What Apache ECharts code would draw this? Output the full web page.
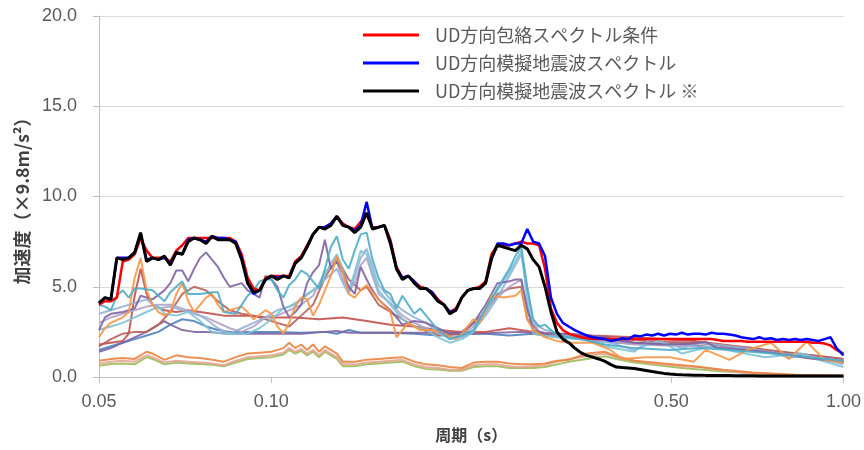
<!DOCTYPE html>
<html><head><meta charset="utf-8">
<script src="https://cdn.jsdelivr.net/npm/echarts@6/dist/echarts.min.js"></script>
<style>html,body{margin:0;padding:0;background:#fff}#c{width:864px;height:450px}</style>
</head><body><div id="c"></div>
<script>
const PERIODS = [0.05,0.05121,0.05245,0.05372,0.05502,0.05636,0.05772,0.05912,0.06055,0.06202,
0.06352,0.06506,0.06663,0.06824,0.0699,0.07159,0.07332,0.0751,0.07692,0.07878,
0.08069,0.08264,0.08464,0.08669,0.08879,0.09094,0.09314,0.0954,0.09771,0.1001,
0.1025,0.105,0.1075,0.1101,0.1128,0.1155,0.1183,0.1212,0.1241,0.1271,
0.1302,0.1334,0.1366,0.1399,0.1433,0.1468,0.1503,0.154,0.1577,0.1615,
0.1655,0.1695,0.1736,0.1778,0.1821,0.1865,0.191,0.1956,0.2004,0.2052,
0.2102,0.2153,0.2205,0.2258,0.2313,0.2369,0.2426,0.2485,0.2545,0.2607,
0.267,0.2735,0.2801,0.2869,0.2938,0.3009,0.3082,0.3157,0.3233,0.3311,
0.3392,0.3474,0.3558,0.3644,0.3732,0.3823,0.3915,0.401,0.4107,0.4207,
0.4309,0.4413,0.452,0.463,0.4742,0.4857,0.4974,0.5095,0.5218,0.5345,
0.5474,0.5607,0.5742,0.5882,0.6024,0.617,0.6319,0.6472,0.6629,0.679,
0.6954,0.7123,0.7295,0.7472,0.7653,0.7838,0.8028,0.8223,0.8422,0.8626,
0.8835,0.9049,0.9268,0.9493,0.9723,1.0];

const BLACK = [4.1,4.4,4.3,6.6,6.5,6.6,6.9,8.0,6.4,6.6,
6.5,6.7,6.2,6.9,6.8,7.5,7.7,7.6,7.4,7.8,
7.6,7.6,7.6,7.4,6.5,5.2,4.7,4.8,5.4,5.6,
5.4,5.6,5.5,6.3,6.6,7.2,7.9,8.3,8.2,8.4,
8.9,8.4,8.3,8.0,8.3,9.1,8.2,8.3,8.4,7.4,
6.0,5.4,5.6,5.2,4.9,4.9,4.6,4.2,4.0,3.5,
3.7,4.4,4.8,4.9,4.9,5.2,6.6,7.3,7.2,7.1,
7.0,7.3,7.1,6.5,6.1,5.0,3.6,2.5,2.1,1.9,
1.6,1.35,1.2,1.1,1.0,0.88,0.7,0.55,0.52,0.5,
0.47,0.42,0.36,0.3,0.25,0.2,0.17,0.14,0.12,0.11,
0.1,0.1,0.09,0.09,0.08,0.08,0.08,0.07,0.07,0.07,
0.07,0.06,0.06,0.06,0.06,0.06,0.06,0.05,0.05,0.05,
0.05,0.05,0.05,0.05,0.05,0.05];

const BLUE = [4.1,4.4,4.3,6.6,6.6,6.6,6.9,7.9,6.5,6.6,
6.5,6.6,6.3,6.9,6.8,7.6,7.7,7.6,7.5,7.8,
7.7,7.7,7.6,7.5,6.6,5.2,4.6,4.8,5.4,5.6,
5.5,5.6,5.5,6.3,6.6,7.2,7.9,8.3,8.3,8.5,
8.9,8.4,8.3,8.1,8.4,9.7,8.2,8.3,8.4,7.5,
6.0,5.5,5.6,5.3,4.9,4.9,4.7,4.2,4.0,3.6,
3.7,4.4,4.8,4.9,4.9,5.2,6.5,7.4,7.4,7.3,
7.4,7.4,8.2,7.5,7.4,6.7,4.4,3.5,3.0,2.8,
2.6,2.45,2.3,2.2,2.15,2.1,2.0,2.05,2.15,2.1,
2.3,2.25,2.35,2.3,2.4,2.3,2.4,2.35,2.45,2.35,
2.4,2.4,2.35,2.45,2.4,2.4,2.35,2.3,2.2,2.15,
2.1,2.2,2.1,2.15,2.05,2.1,2.05,2.1,2.05,2.1,
2.05,2.0,2.1,2.2,1.6,1.2];

const RED = [4.0,4.2,4.2,4.4,6.4,6.5,6.8,7.7,7.0,6.6,
6.6,6.6,6.4,7.0,7.3,7.7,7.7,7.7,7.7,7.7,
7.7,7.7,7.7,7.5,6.8,5.5,4.9,4.8,5.5,5.6,
5.6,5.6,5.6,6.4,6.7,7.3,7.9,8.3,8.3,8.5,
8.9,8.5,8.3,8.2,8.6,9.0,8.3,8.3,8.4,7.6,
6.1,5.5,5.6,5.3,5.0,4.9,4.7,4.3,4.0,3.6,
3.8,4.4,4.8,4.9,5.0,5.3,6.8,7.3,7.3,7.3,
7.4,7.5,7.4,7.4,7.3,6.0,3.8,3.0,2.6,2.4,
2.3,2.2,2.15,2.1,2.1,2.1,2.1,2.1,2.1,2.1,
2.1,2.1,2.1,2.1,2.1,2.1,2.1,2.1,2.1,2.1,
2.1,2.1,2.1,2.1,2.05,2.0,2.0,2.0,2.0,1.95,
1.95,1.95,1.95,1.95,1.95,1.95,1.95,1.95,1.95,1.95,
1.9,1.9,1.85,1.75,1.5,1.3];

// thin comparison spectra: [period, value]
const ORANGE_HI = [[0.05,2.2],[0.05121,2.7],[0.05245,3.0],[0.05502,3.3],[0.05636,3.6],[0.05772,5.5],[0.05912,6.6],[0.06055,4.8],[0.06202,4.0],[0.06352,3.6],[0.06506,3.4],[0.06663,3.6],[0.06824,4.6],[0.0699,5.2],[0.07159,4.2],[0.07332,3.6],[0.0751,4.0],[0.07692,4.4],[0.07878,4.6],[0.08069,4.0],[0.08264,3.6],[0.08669,3.8],[0.08879,3.9],[0.09094,3.6],[0.09314,3.2],[0.09771,3.7],[0.1001,3.5],[0.1025,2.8],[0.105,2.4],[0.1075,3.0],[0.1101,3.9],[0.1128,4.4],[0.1155,4.3],[0.1183,3.4],[0.1212,4.0],[0.1241,4.8],[0.1271,5.6],[0.1302,6.7],[0.1334,5.8],[0.1366,4.6],[0.1399,4.4],[0.1433,4.8],[0.1468,5.1],[0.1503,4.7],[0.154,4.3],[0.1615,3.6],[0.1655,2.2],[0.1736,3.0],[0.1821,2.6],[0.191,2.6],[0.2004,2.4],[0.2102,2.1],[0.2153,2.4],[0.2258,3.2],[0.2313,3.0],[0.2369,3.7],[0.2426,4.5],[0.2545,4.4],[0.267,4.5],[0.2735,4.8],[0.2801,3.2],[0.2869,2.6],[0.3009,2.2],[0.3157,2.0],[0.3311,1.9],[0.3644,1.9],[0.3915,1.5],[0.4107,1.0],[0.452,1.1],[0.4974,1.1],[0.5474,0.85],[0.5742,1.5],[0.6319,0.95],[0.679,1.5],[0.7472,1.9],[0.8028,1.0],[0.8626,1.95],[0.9268,0.95],[1.0,0.8]];
const PURPLE_HI = [[0.05,2.6],[0.05121,3.3],[0.05245,3.5],[0.05502,3.6],[0.05772,3.8],[0.05912,4.5],[0.06202,4.3],[0.06506,4.8],[0.06663,5.2],[0.06824,5.9],[0.0699,5.9],[0.07159,5.3],[0.07332,6.0],[0.0751,6.6],[0.07692,6.9],[0.07878,6.5],[0.08069,6.1],[0.08264,5.5],[0.08464,5.0],[0.08879,5.2],[0.09094,4.8],[0.09314,4.6],[0.0954,4.4],[0.09771,5.6],[0.1001,5.4],[0.1025,5.0],[0.105,3.9],[0.1075,3.3],[0.1101,3.6],[0.1128,4.0],[0.1155,5.2],[0.1183,5.8],[0.1212,6.2],[0.1241,7.6],[0.1271,6.0],[0.1302,6.4],[0.1334,5.8],[0.1366,5.0],[0.1399,4.6],[0.1433,6.1],[0.1468,5.4],[0.1503,4.8],[0.154,4.3],[0.1615,3.7],[0.1695,2.9],[0.1778,3.1],[0.1865,3.0],[0.1956,2.7],[0.2052,2.4],[0.2153,2.5],[0.2258,3.0],[0.2369,4.0],[0.2485,5.2],[0.2607,5.3],[0.267,5.4],[0.2735,5.4],[0.2801,3.8],[0.2869,2.6],[0.3009,2.4],[0.3311,2.4],[0.3823,2.2],[0.4309,1.9],[0.4857,1.8],[0.5474,1.85],[0.5742,1.95],[0.6024,1.6],[0.679,1.5],[0.7653,1.3],[0.9049,1.0],[1.0,0.85]];
const TEAL_A = [[0.05,4.0],[0.05121,3.9],[0.05245,3.7],[0.05372,4.5],[0.05502,4.8],[0.05636,4.4],[0.05772,4.9],[0.05912,4.9],[0.06202,4.8],[0.06506,4.2],[0.06663,4.7],[0.06824,5.0],[0.0699,5.3],[0.07159,4.6],[0.0751,4.6],[0.07878,4.7],[0.08069,4.7],[0.08264,3.6],[0.08669,3.5],[0.09094,4.5],[0.09314,4.8],[0.0954,5.3],[0.09771,5.4],[0.1001,5.4],[0.1025,4.8],[0.105,4.4],[0.1075,5.1],[0.1101,5.4],[0.1128,5.9],[0.1155,5.7],[0.1183,5.3],[0.1212,4.9],[0.1241,6.0],[0.1271,7.2],[0.1302,7.8],[0.1334,6.5],[0.1366,6.0],[0.1399,7.0],[0.1433,7.9],[0.1468,8.0],[0.1503,6.5],[0.154,5.5],[0.1577,4.8],[0.1615,4.6],[0.1655,3.8],[0.1695,4.5],[0.1736,4.0],[0.1778,3.5],[0.1821,3.8],[0.1865,3.4],[0.1956,2.6],[0.2052,2.1],[0.2153,2.3],[0.2258,2.6],[0.2369,3.8],[0.2485,4.9],[0.2607,6.0],[0.267,6.7],[0.2735,7.2],[0.2801,5.0],[0.2869,3.2],[0.2938,2.8],[0.3009,2.9],[0.3082,2.6],[0.3157,2.3],[0.3474,2.1],[0.3823,1.8],[0.4309,1.6],[0.4974,1.5],[0.5607,1.6],[0.6319,1.5],[0.7472,1.3],[0.8626,1.1],[1.0,0.9]];
const TEAL_B = [[0.05,2.6],[0.05245,2.8],[0.05502,3.0],[0.05772,3.3],[0.06055,3.6],[0.06352,3.9],[0.06506,3.5],[0.06824,3.4],[0.07159,3.6],[0.0751,3.1],[0.07878,2.5],[0.08264,2.4],[0.08669,2.4],[0.09094,2.4],[0.0954,2.7],[0.1001,3.2],[0.105,3.8],[0.1101,4.0],[0.1155,4.6],[0.1212,5.0],[0.1271,6.3],[0.1302,6.8],[0.1334,6.0],[0.1366,4.8],[0.1399,5.8],[0.1433,7.0],[0.1468,6.8],[0.1503,5.8],[0.154,4.8],[0.1615,4.0],[0.1695,3.2],[0.1778,2.8],[0.1865,2.6],[0.1956,2.2],[0.2052,1.9],[0.2153,2.1],[0.2258,2.5],[0.2369,3.6],[0.2485,4.8],[0.2607,5.8],[0.2735,7.0],[0.2801,4.3],[0.2869,2.4],[0.3009,2.3],[0.3157,2.2],[0.3558,2.05],[0.3823,1.7],[0.4309,1.4],[0.463,2.15],[0.4974,1.7],[0.5218,1.3],[0.5882,1.7],[0.6472,1.4],[0.7295,1.1],[0.8422,1.3],[0.9049,0.95],[1.0,0.55]];
const LIGHT_BLUE = [[0.05,3.5],[0.05245,3.7],[0.05502,3.9],[0.05772,4.1],[0.06055,4.3],[0.06352,3.8],[0.06663,3.9],[0.0699,3.7],[0.07332,3.6],[0.07692,3.2],[0.08069,2.7],[0.08464,2.4],[0.08879,2.7],[0.09314,3.0],[0.09771,3.3],[0.1025,3.7],[0.1075,3.9],[0.1128,4.3],[0.1183,4.8],[0.1241,5.4],[0.1302,6.0],[0.1334,5.2],[0.1366,4.6],[0.1399,5.6],[0.1433,6.6],[0.1468,7.1],[0.1503,6.1],[0.154,5.1],[0.1615,4.3],[0.1695,3.7],[0.1778,3.3],[0.1865,3.0],[0.1956,2.5],[0.2052,2.1],[0.2153,2.2],[0.2258,2.6],[0.2369,3.4],[0.2485,4.4],[0.2607,5.6],[0.2735,6.8],[0.2801,4.8],[0.2869,3.0],[0.3009,2.6],[0.3311,2.3],[0.3644,2.0],[0.3915,1.9],[0.4309,1.5],[0.4742,2.0],[0.5218,1.6],[0.5607,1.9],[0.617,1.75],[0.679,1.6],[0.7653,1.3],[0.8028,1.05],[0.8626,1.2],[0.9268,0.95],[1.0,0.7]];
const LIGHT_PURPLE = [[0.05,3.0],[0.05245,3.3],[0.05502,3.5],[0.05772,3.7],[0.06055,3.9],[0.06352,4.0],[0.06663,4.0],[0.0699,3.8],[0.07332,3.5],[0.07692,3.3],[0.08069,3.0],[0.08464,2.7],[0.08879,2.5],[0.09314,2.8],[0.09771,3.3],[0.1025,3.4],[0.1075,3.7],[0.1128,4.0],[0.1183,4.5],[0.1241,5.8],[0.1302,6.4],[0.1334,5.4],[0.1366,4.8],[0.1399,5.2],[0.1433,6.2],[0.1468,6.6],[0.1503,5.6],[0.154,4.6],[0.1615,4.1],[0.1695,3.4],[0.1778,3.0],[0.1865,2.7],[0.1956,2.4],[0.2052,2.2],[0.2153,2.3],[0.2258,2.8],[0.2369,3.7],[0.2485,4.4],[0.2607,5.0],[0.2735,5.4],[0.2801,3.6],[0.2938,2.5],[0.3157,2.3],[0.3558,2.1],[0.4309,1.8],[0.5474,1.7],[0.6954,1.5],[1.0,0.9]];
const BROWN_A = [[0.05,1.8],[0.05245,1.9],[0.05502,2.0],[0.05636,2.4],[0.05772,4.5],[0.05912,6.0],[0.06055,4.6],[0.06202,4.0],[0.06506,3.7],[0.06824,3.6],[0.07159,3.7],[0.0751,3.6],[0.07878,3.5],[0.08264,3.4],[0.09094,3.4],[0.1001,3.3],[0.1101,3.3],[0.1212,3.2],[0.1334,3.3],[0.1468,3.1],[0.1615,2.9],[0.1778,2.8],[0.1956,2.6],[0.2153,2.5],[0.2369,2.5],[0.2607,2.7],[0.2869,2.5],[0.3157,2.4],[0.3644,2.3],[0.4309,2.2],[0.5474,2.0],[0.6954,1.6],[0.8422,1.1],[1.0,0.8]];
const BROWN_B = [[0.05,1.7],[0.05245,2.1],[0.05502,2.4],[0.05772,2.5],[0.06055,2.5],[0.06352,2.9],[0.06663,3.6],[0.0699,4.6],[0.07332,5.0],[0.07692,4.8],[0.08069,4.2],[0.08464,3.7],[0.08879,3.5],[0.09314,3.4],[0.09771,3.2],[0.1025,3.0],[0.1075,2.8],[0.1128,3.4],[0.1183,4.0],[0.1241,5.5],[0.1302,6.6],[0.1366,5.4],[0.1433,4.8],[0.1468,5.0],[0.154,4.0],[0.1615,3.6],[0.1695,3.2],[0.1778,2.8],[0.1956,2.3],[0.2153,2.4],[0.2369,3.6],[0.2485,4.6],[0.2607,4.9],[0.2735,5.0],[0.2801,3.2],[0.2938,2.5],[0.3157,2.3],[0.3732,2.2],[0.452,2.0],[0.5474,1.9],[0.6954,1.6],[1.0,1.0]];
const BLUE_THIN = [[0.05,1.5],[0.05245,1.7],[0.05502,1.9],[0.05772,2.1],[0.06055,2.3],[0.06352,2.5],[0.06663,2.9],[0.0699,3.2],[0.07332,3.1],[0.07692,2.8],[0.08069,2.6],[0.08464,2.5],[0.09314,2.5],[0.1025,2.5],[0.1128,2.45],[0.1241,2.5],[0.1302,2.4],[0.1366,2.6],[0.1433,2.45],[0.1615,2.45],[0.1778,2.4],[0.1956,2.3],[0.2153,2.4],[0.2369,2.4],[0.2607,2.3],[0.2869,2.4],[0.3157,2.2],[0.3558,2.1],[0.401,1.9],[0.4742,1.8],[0.5474,1.75],[0.679,1.5],[0.8223,1.3],[1.0,1.0]];
const PURPLE_FLAT = [[0.05,1.4],[0.05245,1.6],[0.05502,1.9],[0.05772,2.2],[0.06055,2.5],[0.06352,2.9],[0.06506,3.1],[0.06663,2.9],[0.0699,2.6],[0.07332,2.5],[0.07692,2.5],[0.08464,2.4],[0.09314,2.4],[0.1025,2.4],[0.1128,2.4],[0.1241,2.5],[0.1302,2.55],[0.1366,2.45],[0.1503,2.45],[0.1695,2.45],[0.1865,2.45],[0.2052,2.45],[0.2258,2.4],[0.2485,2.45],[0.2735,2.5],[0.2938,2.4],[0.3233,2.3],[0.3644,2.2],[0.4309,1.9],[0.5218,1.8],[0.5742,1.9],[0.617,1.7],[0.679,1.55],[0.7653,1.35],[0.9049,1.0],[1.0,0.85]];
const ORANGE_LOW = [[0.05,0.9],[0.05245,1.0],[0.05502,1.05],[0.05772,1.0],[0.06055,1.4],[0.06202,1.3],[0.06506,0.95],[0.06824,1.2],[0.07159,1.1],[0.0751,1.05],[0.07878,0.95],[0.08264,0.85],[0.08669,1.1],[0.09094,1.3],[0.0954,1.35],[0.1001,1.4],[0.105,1.6],[0.1075,1.9],[0.1101,1.6],[0.1128,1.8],[0.1155,1.5],[0.1183,1.8],[0.1212,1.4],[0.1241,1.7],[0.1271,1.5],[0.1302,1.3],[0.1334,0.85],[0.1399,0.85],[0.1468,0.95],[0.154,1.0],[0.1615,1.05],[0.1695,1.1],[0.1778,0.85],[0.1865,0.7],[0.1956,0.65],[0.2052,0.55],[0.2153,0.5],[0.2258,0.8],[0.2369,0.85],[0.2485,0.85],[0.2607,0.75],[0.2735,0.7],[0.2869,0.7],[0.3009,0.75],[0.3157,0.9],[0.3311,0.95],[0.3558,1.3],[0.3823,1.4],[0.401,1.15],[0.4309,0.9],[0.4857,0.75],[0.5474,0.6],[0.617,0.4],[0.6954,0.25],[0.8223,0.12],[1.0,0.08]];
const SALMON = [[0.05,0.75],[0.05245,0.85],[0.05502,0.9],[0.05772,0.85],[0.06055,1.2],[0.06202,1.1],[0.06506,0.8],[0.06824,0.9],[0.07159,0.85],[0.0751,0.8],[0.07878,0.75],[0.08264,0.65],[0.08669,0.9],[0.09094,1.1],[0.0954,1.15],[0.1001,1.2],[0.105,1.35],[0.1075,1.6],[0.1101,1.4],[0.1128,1.55],[0.1155,1.3],[0.1183,1.5],[0.1212,1.2],[0.1241,1.5],[0.1271,1.3],[0.1302,1.1],[0.1334,0.7],[0.1399,0.7],[0.1468,0.8],[0.154,0.85],[0.1615,0.9],[0.1695,0.95],[0.1778,0.7],[0.1865,0.55],[0.1956,0.5],[0.2052,0.4],[0.2153,0.4],[0.2258,0.65],[0.2369,0.7],[0.2485,0.7],[0.2607,0.6],[0.2735,0.55],[0.2869,0.6],[0.3009,0.65],[0.3157,0.85],[0.3311,1.0],[0.3558,1.15],[0.3823,1.3],[0.401,1.1],[0.4309,0.9],[0.463,0.75],[0.5218,0.6],[0.5607,0.55],[0.617,0.35],[0.6954,0.2],[0.8223,0.1],[1.0,0.05]];
const GREEN = [[0.05,0.62],[0.05245,0.72],[0.05502,0.75],[0.05772,0.7],[0.06055,1.1],[0.06202,1.0],[0.06506,0.7],[0.06824,0.8],[0.07159,0.75],[0.0751,0.72],[0.07878,0.68],[0.08264,0.6],[0.08669,0.8],[0.09094,1.0],[0.0954,1.05],[0.1001,1.1],[0.105,1.25],[0.1075,1.5],[0.1101,1.3],[0.1128,1.45],[0.1155,1.2],[0.1183,1.4],[0.1212,1.1],[0.1241,1.4],[0.1271,1.2],[0.1302,1.0],[0.1334,0.6],[0.1399,0.6],[0.1468,0.7],[0.154,0.75],[0.1615,0.8],[0.1695,0.85],[0.1778,0.6],[0.1865,0.45],[0.1956,0.42],[0.2052,0.35],[0.2153,0.35],[0.2258,0.55],[0.2369,0.6],[0.2485,0.6],[0.2607,0.5],[0.2735,0.5],[0.2869,0.5],[0.3009,0.55],[0.3157,0.7],[0.3311,0.85],[0.3558,1.0],[0.3823,1.15],[0.401,1.0],[0.4309,0.8],[0.5218,0.5],[0.617,0.3],[0.8223,0.08],[1.0,0.04]];

const X_TICKS = [0.05, 0.1, 0.5, 1.0];
const LEGEND_NAMES = ['UD方向包絡スペクトル条件', 'UD方向模擬地震波スペクトル', 'UD方向模擬地震波スペクトル ※'];

const thin = [
  ['t1', GREEN, '#9BBB59'],
  ['t2', SALMON, '#E3A592'],
  ['t3', ORANGE_LOW, '#E8843F'],
  ['t4', BLUE_THIN, '#4F81BD'],
  ['t5', PURPLE_FLAT, '#8064A2'],
  ['t6', BROWN_A, '#C0504D'],
  ['t7', BROWN_B, '#B7605B'],
  ['t8', LIGHT_PURPLE, '#B3A2C7'],
  ['t9', LIGHT_BLUE, '#95B3D7'],
  ['t10', TEAL_B, '#7CC3D5'],
  ['t11', PURPLE_HI, '#8064A2'],
  ['t12', ORANGE_HI, '#F79646'],
  ['t13', TEAL_A, '#4BACC6']
];

const series = thin.map(([n, d, c]) => ({
  name: n, type: 'line', data: d, symbol: 'none', silent: true,
  color: c, lineStyle: { color: c, width: 2, opacity: 0.9 }
}));
const thick = [[LEGEND_NAMES[0], RED, '#FF0000', 2.5], [LEGEND_NAMES[1], BLUE, '#0000FF', 2.5], [LEGEND_NAMES[2], BLACK, '#000000', 3]];
thick.forEach(([n, vals, c, w]) => series.push({
  name: n, type: 'line', symbol: 'none', silent: true, color: c,
  data: PERIODS.map((p, i) => [p, vals[i]]),
  lineStyle: { color: c, width: w }
}));

const chart = echarts.init(document.getElementById('c'), null, { renderer: 'canvas' });
chart.setOption({
  animation: false,
  backgroundColor: '#fff',
  grid: { left: 99, right: 14, top: 16, bottom: 73 },
  legend: {
    data: LEGEND_NAMES, orient: 'vertical', left: 363, top: 26, padding: 0,
    icon: 'rect', itemWidth: 56, itemHeight: 3, itemGap: 10,
    textStyle: { fontSize: 18, color: '#595959', fontFamily: 'Noto Sans CJK JP', padding: [0, 0, 0, 11] }
  },
  xAxis: {
    type: 'log', logBase: 10, min: 0.05, max: 1,
    name: '周期（s）', nameLocation: 'middle', nameGap: 50,
    nameTextStyle: { fontSize: 16, fontWeight: 'bold', color: '#404040', fontFamily: 'Noto Sans CJK JP' },
    splitLine: { show: false }, minorTick: { show: false }, minorSplitLine: { show: false },
    axisLine: { lineStyle: { color: '#bfbfbf', width: 1 } },
    axisTick: { show: true, length: 6, customValues: X_TICKS, lineStyle: { color: '#bfbfbf' } },
    axisLabel: { customValues: X_TICKS, formatter: v => Number(v).toFixed(2), margin: 16, fontSize: 18, color: '#595959', fontFamily: 'Liberation Sans' }
  },
  yAxis: {
    type: 'value', min: 0, max: 20, interval: 5,
    name: '加速度（×9.8m/s²）', nameLocation: 'middle', nameGap: 68, nameRotate: 90,
    nameTextStyle: { fontSize: 18, fontWeight: 'bold', color: '#404040', fontFamily: 'Noto Sans CJK JP' },
    axisLine: { show: true, lineStyle: { color: '#bfbfbf', width: 1 } },
    axisTick: { show: true, length: 6, lineStyle: { color: '#bfbfbf' } },
    splitLine: { lineStyle: { color: '#d9d9d9', width: 1 } },
    axisLabel: { formatter: v => v.toFixed(1), margin: 22, fontSize: 18, color: '#595959', fontFamily: 'Liberation Sans' }
  },
  series
});
</script></body></html>
